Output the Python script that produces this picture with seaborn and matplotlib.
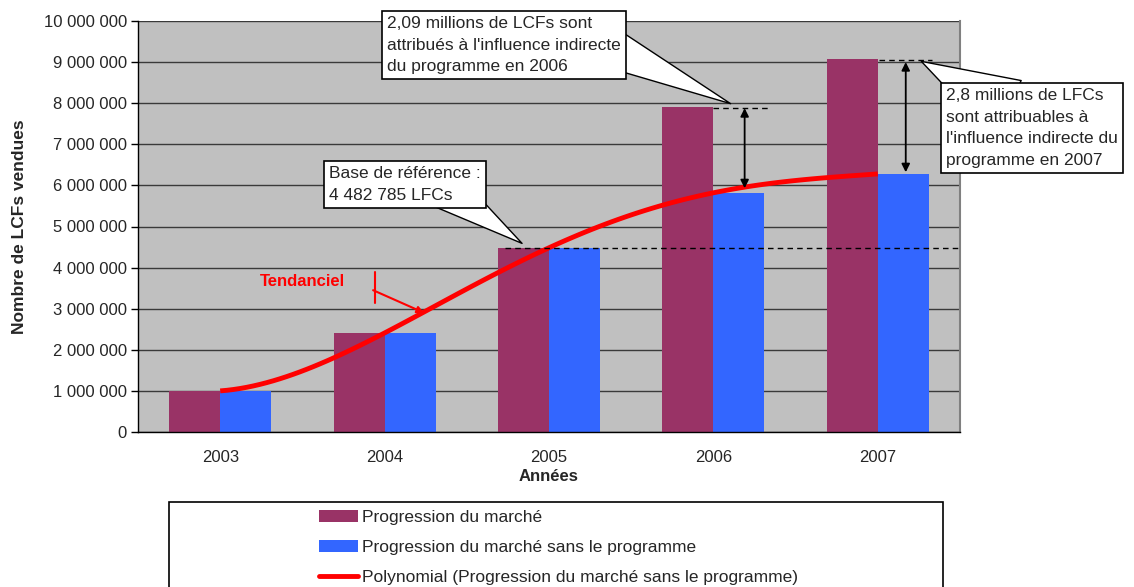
import numpy as np
import pandas as pd
import matplotlib
matplotlib.use("Agg")
import matplotlib.pyplot as plt
from matplotlib.ticker import FuncFormatter, FixedLocator
from matplotlib.patches import Patch, Rectangle
from matplotlib.lines import Line2D
import seaborn as sns

# data
years = ["2003", "2004", "2005", "2006", "2007"]
marche = [1000000, 2410000, 4482785, 7910000, 9080000]
sans_prog = [1000000, 2410000, 4482785, 5820000, 6280000]
base_ref = 4482785

lab_marche = "Progression du marché"
lab_sans = "Progression du marché sans le programme"
lab_poly = "Polynomial (Progression du marché sans le programme)"

df = pd.DataFrame({
    "annee": years * 2,
    "valeur": marche + sans_prog,
    "serie": [lab_marche] * 5 + [lab_sans] * 5,
})

sns.set_style("white")
plt.rcParams["font.family"] = ["Liberation Sans", "DejaVu Sans"]

W, H = 1134, 587
fig = plt.figure(figsize=(W / 100, H / 100), dpi=100)
ax = fig.add_axes([138 / W, 1 - 432 / H, (960 - 138) / W, (432 - 21) / H])
ax.set_facecolor("#C0C0C0")

colors = {lab_marche: "#993366", lab_sans: "#3366FF"}
sns.barplot(data=df, x="annee", y="valeur", hue="serie", order=years,
            palette=colors, saturation=1, width=0.62, gap=0, dodge=True,
            edgecolor="none", linewidth=0, legend=False, ax=ax, zorder=2)

# polynomial trend line of the series without the programme
sns.regplot(x=np.arange(len(years)), y=np.array(sans_prog), order=4, ci=None,
            scatter=False, truncate=True,
            line_kws=dict(color="red", lw=3.5, zorder=4, solid_capstyle="butt"), ax=ax)

ax.set_xlim(-0.5, 4.5)
ax.set_ylim(0, 10000000)
ax.yaxis.set_major_locator(FixedLocator(np.arange(0, 10000001, 1000000)))
ax.yaxis.set_major_formatter(FuncFormatter(lambda v, p: f"{v:,.0f}".replace(",", " ")))
ax.grid(axis="y", color="#3a3a3a", lw=1, zorder=1)
ax.set_axisbelow(True)

ax.set_xticks(range(5))
ax.set_xticklabels(years)
ax.set_xticks(np.arange(-0.5, 5, 1), minor=True)
ax.tick_params(axis="x", which="major", length=0, pad=13, labelsize=12)
ax.tick_params(axis="x", which="minor", length=5, width=1, color="black", direction="out")
ax.tick_params(axis="y", length=5, width=1, color="black", direction="out", left=True, labelsize=12, pad=3)

for s in ["left", "bottom"]:
    ax.spines[s].set_color("black")
    ax.spines[s].set_linewidth(1)
ax.spines["right"].set_color("#808080")
ax.spines["right"].set_linewidth(1.5)
ax.spines["top"].set_visible(False)

ax.set_xlabel("Années", fontsize=12, fontweight="bold", labelpad=3)
ax.set_ylabel("Nombre de LCFs vendues", fontsize=12.5, fontweight="bold", labelpad=12)

# reference base line
ax.plot([1.73, 4.5], [base_ref, base_ref], ls=(0, (4, 3)), color="black", lw=1, zorder=5)
# 2006 gap
ax.plot([3.0, 3.33], [7880000, 7880000], ls=(0, (4, 3)), color="black", lw=1, zorder=5)
ax.annotate("", xy=(3.19, 5930000), xytext=(3.19, 7880000),
            arrowprops=dict(arrowstyle="<|-|>", color="black", lw=1.3,
                            mutation_scale=12, shrinkA=0, shrinkB=0), zorder=6)
# 2007 gap
ax.plot([4.01, 4.33], [9050000, 9050000], ls=(0, (4, 3)), color="black", lw=1, zorder=5)
ax.annotate("", xy=(4.17, 6320000), xytext=(4.17, 9000000),
            arrowprops=dict(arrowstyle="<|-|>", color="black", lw=1.3,
                            mutation_scale=12, shrinkA=0, shrinkB=0), zorder=6)

box = dict(boxstyle="square,pad=0.3", fc="white", ec="black", lw=1.2)


def wedge(tw, rel):
    # callout pointer: starts inside the box so the box hides its base
    return dict(arrowstyle=f"wedge,tail_width={tw},shrink_factor=0.5",
                fc="white", ec="black", lw=1, relpos=rel, patchA=None, shrinkA=0)


ax.annotate("2,09 millions de LCFs sont\nattribués à l'influence indirecte\ndu programme en 2006",
            xy=(3.12, 7960000), xytext=(387 / W, 1 - 16 / H), textcoords="figure fraction",
            ha="left", va="top", fontsize=12.5, linespacing=1.55, bbox=box,
            arrowprops=wedge(2.4, (0.93, 0.5)), zorder=7, annotation_clip=False)

ax.annotate("2,8 millions de LFCs\nsont attribuables à\nl'influence indirecte du\nprogramme en 2007",
            xy=(4.25, 9050000), xytext=(946 / W, 1 - 88 / H), textcoords="figure fraction",
            ha="left", va="top", fontsize=12.5, linespacing=1.55, bbox=box,
            arrowprops=wedge(3.6, (0.35, 0.75)), zorder=7, annotation_clip=False)

ax.annotate("Base de référence :\n4 482 785 LFCs",
            xy=(1.85, 4550000), xytext=(329 / W, 1 - 166 / H), textcoords="figure fraction",
            ha="left", va="top", fontsize=12.5, linespacing=1.55, bbox=box,
            arrowprops=wedge(2.4, (0.75, 0.4)), zorder=7, annotation_clip=False)

# "Tendanciel" label
ax.text(0.5, 3650000, "Tendanciel", color="red", fontsize=12, fontweight="bold",
        ha="center", va="center", zorder=7)
ax.plot([0.94, 0.94], [3900000, 3150000], color="red", lw=1.5, zorder=7)
ax.annotate("", xy=(1.24, 2900000), xytext=(0.93, 3450000),
            arrowprops=dict(arrowstyle="-|>", color="red", lw=1.5, mutation_scale=10,
                            shrinkA=0, shrinkB=0), zorder=7)

# legend
handles = [Patch(fc="#993366", ec="none"), Patch(fc="#3366FF", ec="none"),
           Line2D([], [], color="red", lw=3.5)]
fig.legend(handles, [lab_marche, lab_sans, lab_poly], loc="upper left",
           bbox_to_anchor=(319 / W, 1 - 510 / H), frameon=False, fontsize=12.5,
           borderpad=0, borderaxespad=0, handlelength=2.25, handletextpad=0.25,
           labelspacing=0.86)
fig.add_artist(Rectangle((169 / W, -0.02), (943 - 169) / W, (587 - 502) / H + 0.02,
                         transform=fig.transFigure, fill=False, ec="black", lw=1.2,
                         clip_on=False))

fig.savefig("out.png", dpi=100)
